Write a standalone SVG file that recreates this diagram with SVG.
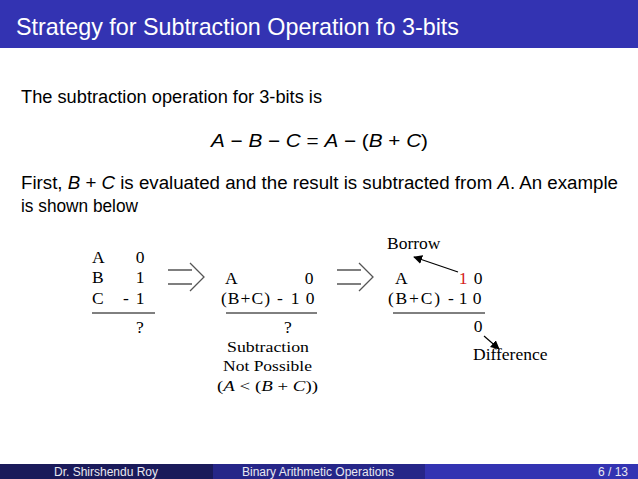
<svg xmlns="http://www.w3.org/2000/svg" width="638" height="479" viewBox="0 0 638 479">
<defs>
<style>
.sans{font-family:"Liberation Sans","DejaVu Sans",sans-serif;fill:#000}
.serif{font-family:"Liberation Serif","DejaVu Serif",serif;font-size:17.5px;fill:#000}
.note{font-size:15.5px}
.it{font-style:italic}
.c{text-anchor:middle}
.rule{stroke:#000;stroke-width:1}
.darrow{fill:none;stroke:#555;stroke-width:1.3}
.ptr{stroke:#000;stroke-width:1.2;fill:none}
.foot{font-family:"Liberation Sans","DejaVu Sans",sans-serif;font-size:12px;fill:#e8e8f0}
</style>
<marker id="ah" viewBox="0 0 10 10" refX="9" refY="5" markerWidth="9" markerHeight="9" markerUnits="userSpaceOnUse" orient="auto">
<path d="M0,0 L10,5 L0,10 Z" fill="#000"/>
</marker>
</defs>
<rect width="638" height="479" fill="#fff"/>
<g id="header">
<rect x="0" y="0" width="638" height="48" fill="#3333B2"/>
<text x="16" y="35" class="sans" style="font-size:24px;fill:#fff" textLength="443" lengthAdjust="spacingAndGlyphs">Strategy for Subtraction Operation fo 3-bits</text>
</g>
<g id="body">
<text x="21" y="103" class="sans" style="font-size:18px" textLength="301" lengthAdjust="spacingAndGlyphs">The subtraction operation for 3-bits is</text>
<text x="211" y="147" class="sans" style="font-size:18px" textLength="217" lengthAdjust="spacingAndGlyphs"><tspan class="it">A</tspan> − <tspan class="it">B</tspan> − <tspan class="it">C</tspan> = <tspan class="it">A</tspan> − (<tspan class="it">B</tspan> + <tspan class="it">C</tspan>)</text>
<text x="21" y="189" class="sans" style="font-size:18px" textLength="597" lengthAdjust="spacingAndGlyphs">First, <tspan class="it">B</tspan> + <tspan class="it">C</tspan> is evaluated and the result is subtracted from <tspan class="it">A</tspan>.  An example</text>
<text x="21" y="212" class="sans" style="font-size:18px" textLength="117" lengthAdjust="spacingAndGlyphs">is shown below</text>
</g>
<g id="block1">
<text x="92" y="263" class="serif">A</text>
<text x="140" y="263" class="serif c">0</text>
<text x="92" y="283" class="serif">B</text>
<text x="140" y="283" class="serif c">1</text>
<text x="92" y="304" class="serif">C</text>
<text x="126" y="304" class="serif c">-</text>
<text x="140" y="304" class="serif c">1</text>
<line x1="92" y1="313" x2="155" y2="313" class="rule"/>
<text x="140" y="333" class="serif c">?</text>
</g>
<g id="block2">
<text x="225" y="284" class="serif">A</text>
<text x="309" y="284" class="serif c">0</text>
<text x="221" y="304" class="serif" textLength="49">(B+C)</text>
<text x="280" y="304" class="serif c">-</text>
<text x="295" y="304" class="serif c">1</text>
<text x="310" y="304" class="serif c">0</text>
<line x1="226" y1="313" x2="317" y2="313" class="rule"/>
<text x="288" y="333" class="serif c">?</text>
<text x="227" y="352" class="serif note" textLength="82" lengthAdjust="spacingAndGlyphs">Subtraction</text>
<text x="223" y="371" class="serif note" textLength="89" lengthAdjust="spacingAndGlyphs">Not Possible</text>
<text x="217" y="391" class="serif note" textLength="101" lengthAdjust="spacingAndGlyphs">(<tspan class="it">A</tspan> &lt; (<tspan class="it">B</tspan> + <tspan class="it">C</tspan>))</text>
</g>
<g id="block3">
<text x="387" y="249" class="serif">Borrow</text>
<text x="395" y="284" class="serif">A</text>
<text x="463" y="284" class="serif c" style="fill:#d42020">1</text>
<text x="478" y="284" class="serif c">0</text>
<text x="388" y="304" class="serif" textLength="52">(B+C)</text>
<text x="451" y="304" class="serif c">-</text>
<text x="463" y="304" class="serif c">1</text>
<text x="477" y="304" class="serif c">0</text>
<line x1="393" y1="313" x2="485" y2="313" class="rule"/>
<text x="478" y="332" class="serif c">0</text>
<text x="473" y="360" class="serif">Difference</text>
</g>
<g id="connectors">
<path class="darrow" d="M168,270 H192 M168,284 H192 M190,263 L204,277 L190,291"/>
<path class="darrow" d="M337,270 H361 M337,284 H361 M359,263 L373,277 L359,291"/>
<line x1="458" y1="272" x2="414" y2="257" class="ptr" marker-end="url(#ah)"/>
<line x1="484" y1="336" x2="499" y2="349" class="ptr" marker-end="url(#ah)"/>
</g>
<g id="footer">
<rect x="0" y="464" width="213" height="15" fill="#1A1A5A"/>
<rect x="213" y="464" width="212" height="15" fill="#262688"/>
<rect x="425" y="464" width="213" height="15" fill="#3333B2"/>
<text x="106" y="476" class="foot c">Dr. Shirshendu Roy</text>
<text x="318" y="476" class="foot c">Binary Arithmetic Operations</text>
<text x="628" y="476" class="foot" text-anchor="end">6 / 13</text>
</g>
</svg>
